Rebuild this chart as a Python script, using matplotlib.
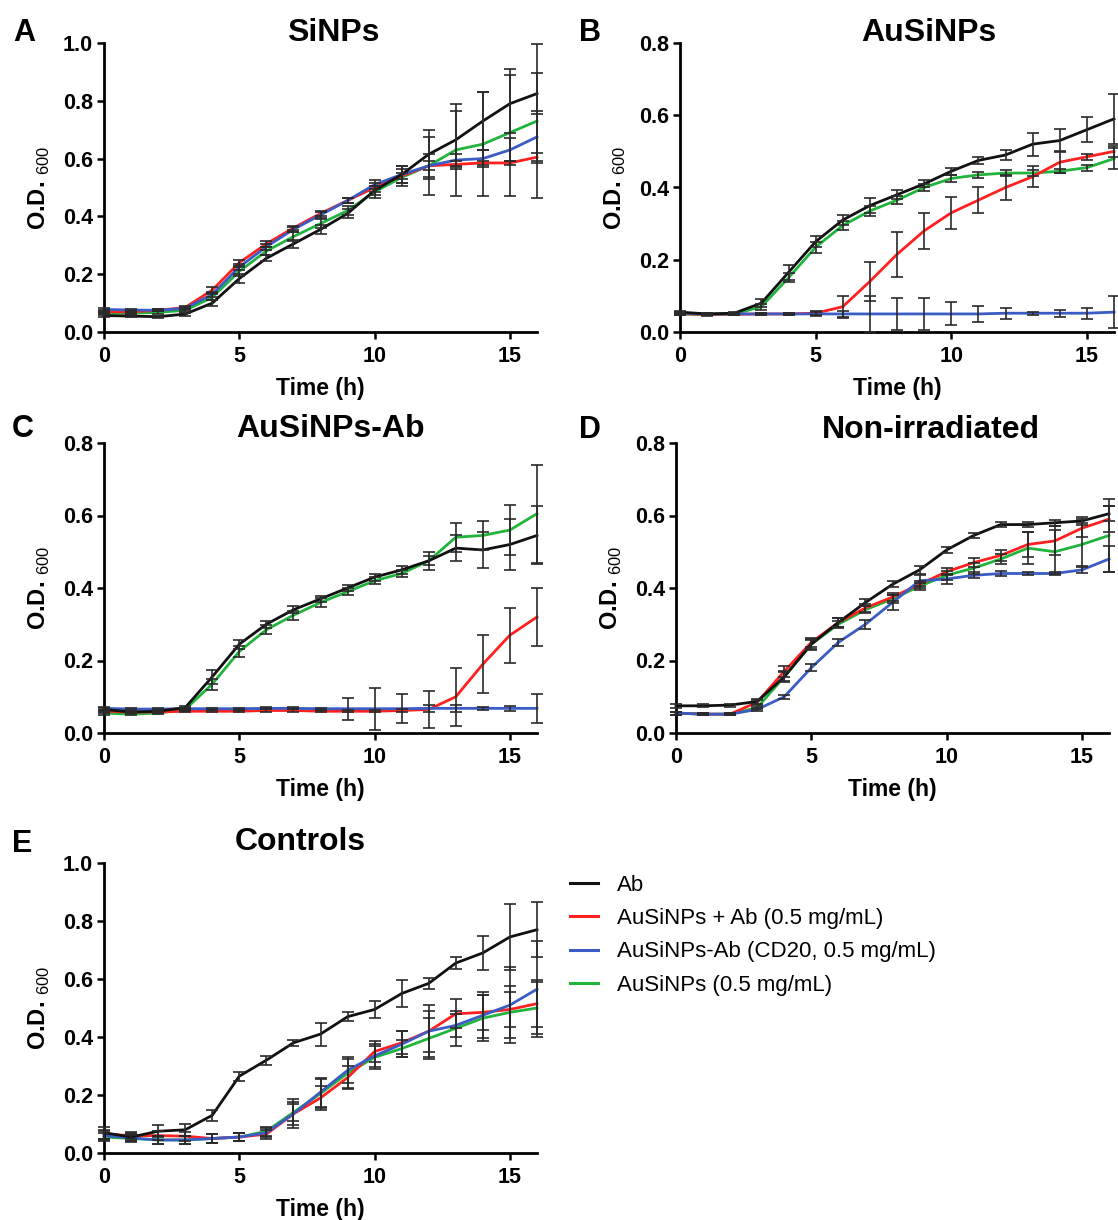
import matplotlib
matplotlib.use("Agg")
import matplotlib.pyplot as plt
from matplotlib.lines import Line2D

plt.rcParams["font.family"] = ["Liberation Sans", "DejaVu Sans"]
plt.rcParams["mathtext.fontset"] = "custom"
plt.rcParams["mathtext.rm"] = "Liberation Sans"

W, H = 1118, 1220

hours = list(range(17))

series_names = [
    "Ab",
    "AuSiNPs + Ab (0.5 mg/mL)",
    "AuSiNPs-Ab (CD20, 0.5 mg/mL)",
    "AuSiNPs (0.5 mg/mL)",
]
colors = ["#111111", "#ff2020", "#3a5cc4", "#20b43c"]

# ==========================================
# A - SiNPs
# ==========================================
a_ab = [0.057, 0.055, 0.053, 0.062, 0.100, 0.185, 0.255, 0.305, 0.355, 0.410, 0.490, 0.545, 0.615, 0.665, 0.730, 0.790, 0.825]
a_ab_err = [0.005, 0.004, 0.004, 0.005, 0.010, 0.015, 0.010, 0.015, 0.015, 0.015, 0.015, 0.030, 0.085, 0.100, 0.100, 0.100, 0.070]
a_mix = [0.070, 0.070, 0.075, 0.085, 0.145, 0.240, 0.305, 0.360, 0.410, 0.455, 0.500, 0.540, 0.575, 0.580, 0.585, 0.585, 0.605]
a_mix_err = [0.005, 0.004, 0.004, 0.005, 0.010, 0.010, 0.010, 0.008, 0.008, 0.010, 0.015, 0.010, 0.015, 0.010, 0.008, 0.008, 0.015]
a_conj = [0.078, 0.076, 0.075, 0.082, 0.130, 0.225, 0.295, 0.355, 0.405, 0.455, 0.510, 0.545, 0.575, 0.595, 0.600, 0.630, 0.675]
a_conj_err = [0.005, 0.004, 0.004, 0.005, 0.010, 0.010, 0.010, 0.010, 0.010, 0.010, 0.015, 0.030, 0.040, 0.020, 0.030, 0.040, 0.090]
a_np = [0.065, 0.065, 0.068, 0.075, 0.120, 0.210, 0.280, 0.330, 0.375, 0.420, 0.485, 0.535, 0.575, 0.630, 0.650, 0.690, 0.730]
a_np_err = [0.005, 0.004, 0.004, 0.005, 0.010, 0.015, 0.015, 0.015, 0.015, 0.015, 0.020, 0.030, 0.100, 0.160, 0.180, 0.220, 0.265]

# ==========================================
# B - AuSiNPs
# ==========================================
b_ab = [0.055, 0.050, 0.052, 0.080, 0.165, 0.250, 0.310, 0.350, 0.380, 0.410, 0.445, 0.475, 0.490, 0.520, 0.530, 0.560, 0.590]
b_ab_err = [0.004, 0.003, 0.003, 0.010, 0.020, 0.015, 0.015, 0.020, 0.012, 0.010, 0.010, 0.010, 0.015, 0.032, 0.032, 0.035, 0.070]
b_mix = [0.050, 0.049, 0.049, 0.050, 0.050, 0.052, 0.070, 0.140, 0.215, 0.280, 0.330, 0.365, 0.400, 0.430, 0.470, 0.485, 0.500]
b_mix_err = [0.003, 0.003, 0.003, 0.003, 0.003, 0.005, 0.030, 0.055, 0.062, 0.050, 0.045, 0.035, 0.035, 0.030, 0.030, 0.008, 0.015]
b_conj = [0.052, 0.050, 0.050, 0.050, 0.050, 0.050, 0.050, 0.050, 0.050, 0.050, 0.050, 0.050, 0.052, 0.052, 0.052, 0.052, 0.055]
b_conj_err = [0.003, 0.003, 0.003, 0.003, 0.003, 0.005, 0.008, 0.050, 0.045, 0.045, 0.032, 0.022, 0.015, 0.004, 0.010, 0.015, 0.045]
b_np = [0.050, 0.048, 0.050, 0.070, 0.150, 0.235, 0.295, 0.335, 0.365, 0.400, 0.425, 0.435, 0.440, 0.440, 0.445, 0.455, 0.480]
b_np_err = [0.003, 0.003, 0.003, 0.008, 0.012, 0.015, 0.012, 0.015, 0.012, 0.010, 0.010, 0.008, 0.008, 0.008, 0.006, 0.008, 0.030]

# ==========================================
# C - AuSiNPs-Ab
# ==========================================
c_ab = [0.065, 0.058, 0.060, 0.070, 0.155, 0.245, 0.300, 0.340, 0.370, 0.400, 0.430, 0.450, 0.475, 0.510, 0.505, 0.520, 0.545]
c_ab_err = [0.005, 0.004, 0.004, 0.005, 0.020, 0.012, 0.010, 0.010, 0.008, 0.008, 0.010, 0.010, 0.012, 0.035, 0.050, 0.070, 0.080]
c_mix = [0.060, 0.058, 0.058, 0.060, 0.060, 0.060, 0.062, 0.062, 0.060, 0.060, 0.060, 0.062, 0.065, 0.100, 0.190, 0.270, 0.320]
c_mix_err = [0.004, 0.003, 0.003, 0.003, 0.003, 0.003, 0.003, 0.003, 0.003, 0.003, 0.003, 0.003, 0.050, 0.080, 0.080, 0.076, 0.080]
c_conj = [0.068, 0.066, 0.066, 0.067, 0.067, 0.067, 0.068, 0.068, 0.067, 0.067, 0.067, 0.067, 0.068, 0.068, 0.068, 0.068, 0.068]
c_conj_err = [0.004, 0.003, 0.003, 0.003, 0.003, 0.003, 0.003, 0.003, 0.003, 0.030, 0.058, 0.040, 0.010, 0.010, 0.004, 0.006, 0.040]
c_np = [0.055, 0.052, 0.055, 0.065, 0.135, 0.225, 0.285, 0.325, 0.360, 0.390, 0.420, 0.440, 0.475, 0.540, 0.545, 0.560, 0.605]
c_np_err = [0.004, 0.003, 0.003, 0.004, 0.015, 0.015, 0.012, 0.012, 0.012, 0.010, 0.010, 0.010, 0.025, 0.040, 0.040, 0.070, 0.135]

# ==========================================
# D - Non-irradiated
# ==========================================
d_ab = [0.075, 0.075, 0.077, 0.087, 0.155, 0.245, 0.305, 0.360, 0.410, 0.450, 0.505, 0.545, 0.575, 0.575, 0.580, 0.585, 0.605]
d_ab_err = [0.005, 0.004, 0.004, 0.006, 0.015, 0.015, 0.012, 0.010, 0.008, 0.010, 0.008, 0.006, 0.008, 0.008, 0.008, 0.010, 0.020]
d_mix = [0.055, 0.052, 0.052, 0.085, 0.170, 0.250, 0.305, 0.345, 0.375, 0.410, 0.445, 0.470, 0.490, 0.520, 0.530, 0.565, 0.590]
d_mix_err = [0.004, 0.003, 0.003, 0.005, 0.015, 0.012, 0.012, 0.010, 0.010, 0.010, 0.010, 0.012, 0.015, 0.035, 0.040, 0.025, 0.035]
d_conj = [0.055, 0.052, 0.052, 0.065, 0.100, 0.180, 0.250, 0.300, 0.360, 0.420, 0.425, 0.435, 0.440, 0.440, 0.440, 0.450, 0.480]
d_conj_err = [0.004, 0.003, 0.003, 0.004, 0.006, 0.010, 0.010, 0.012, 0.020, 0.015, 0.015, 0.008, 0.008, 0.005, 0.005, 0.008, 0.035]
d_np = [0.055, 0.052, 0.052, 0.070, 0.155, 0.245, 0.300, 0.340, 0.370, 0.405, 0.435, 0.455, 0.480, 0.510, 0.500, 0.520, 0.545]
d_np_err = [0.004, 0.003, 0.003, 0.005, 0.012, 0.012, 0.010, 0.010, 0.010, 0.010, 0.012, 0.015, 0.015, 0.045, 0.060, 0.060, 0.100]

# ==========================================
# E - Controls
# ==========================================
e_ab = [0.070, 0.055, 0.075, 0.080, 0.130, 0.265, 0.320, 0.380, 0.410, 0.470, 0.495, 0.550, 0.585, 0.655, 0.690, 0.745, 0.770]
e_ab_err = [0.020, 0.015, 0.020, 0.020, 0.020, 0.015, 0.015, 0.010, 0.040, 0.015, 0.030, 0.045, 0.020, 0.020, 0.060, 0.115, 0.095]
e_mix = [0.065, 0.060, 0.060, 0.058, 0.050, 0.055, 0.065, 0.135, 0.190, 0.260, 0.350, 0.380, 0.420, 0.480, 0.485, 0.495, 0.515]
e_mix_err = [0.015, 0.012, 0.015, 0.015, 0.015, 0.015, 0.015, 0.040, 0.040, 0.040, 0.035, 0.040, 0.090, 0.050, 0.060, 0.060, 0.080]
e_conj = [0.060, 0.052, 0.045, 0.045, 0.050, 0.055, 0.070, 0.135, 0.210, 0.285, 0.335, 0.375, 0.420, 0.440, 0.475, 0.510, 0.565]
e_conj_err = [0.015, 0.012, 0.015, 0.015, 0.015, 0.015, 0.015, 0.050, 0.050, 0.045, 0.040, 0.045, 0.070, 0.040, 0.080, 0.130, 0.165]
e_np = [0.055, 0.050, 0.045, 0.045, 0.050, 0.055, 0.075, 0.140, 0.205, 0.275, 0.330, 0.360, 0.395, 0.430, 0.465, 0.485, 0.500]
e_np_err = [0.015, 0.012, 0.015, 0.015, 0.015, 0.015, 0.015, 0.030, 0.050, 0.050, 0.040, 0.030, 0.070, 0.060, 0.080, 0.090, 0.090]

panels = [
    # letter, title, ymax, (left, top, right, bottom) px, title x frac, title baseline px, letter xy px
    ("A", "SiNPs", 1.0, (104, 43, 537, 332), 0.529, 41, (13, 41),
     [(a_ab, a_ab_err), (a_mix, a_mix_err), (a_conj, a_conj_err), (a_np, a_np_err)]),
    ("B", "AuSiNPs", 0.8, (680, 43, 1114, 332), 0.574, 41, (579, 41),
     [(b_ab, b_ab_err), (b_mix, b_mix_err), (b_conj, b_conj_err), (b_np, b_np_err)]),
    ("C", "AuSiNPs-Ab", 0.8, (104, 443, 537, 733), 0.522, 437, (12, 437),
     [(c_ab, c_ab_err), (c_mix, c_mix_err), (c_conj, c_conj_err), (c_np, c_np_err)]),
    ("D", "Non-irradiated", 0.8, (676, 443, 1109, 733), 0.589, 438, (579, 438),
     [(d_ab, d_ab_err), (d_mix, d_mix_err), (d_conj, d_conj_err), (d_np, d_np_err)]),
    ("E", "Controls", 1.0, (104, 863, 537, 1153), 0.453, 850, (12, 852),
     [(e_ab, e_ab_err), (e_mix, e_mix_err), (e_conj, e_conj_err), (e_np, e_np_err)]),
]

draw_order = [3, 1, 2, 0]

fig = plt.figure(figsize=(W / 100, H / 100), dpi=100)

for letter, title, ymax, box, tx, tbase, lxy, data in panels:
    left, top, right, bottom = box
    ax = fig.add_axes([left / W, 1 - bottom / H, (right - left) / W, (bottom - top) / H])

    for i in draw_order:
        vals, errs = data[i]
        ax.plot(hours, vals, color=colors[i], linewidth=2.0, zorder=2,
                clip_on=False, label=series_names[i])
    for i in draw_order:
        vals, errs = data[i]
        ax.errorbar(hours, vals, yerr=errs, fmt="none", ecolor="#2a2a2a",
                    elinewidth=1.2, capsize=4.2, capthick=1.2, zorder=3,
                    clip_on=False)

    ax.set_xlim(0, 16)
    ax.set_ylim(0, ymax)
    ax.set_xticks([0, 5, 10, 15])
    ax.set_yticks([round(v * 0.2, 1) for v in range(int(round(ymax / 0.2)) + 1)])
    ax.set_yticklabels(["%.1f" % t for t in ax.get_yticks()])

    for side in ["top", "right"]:
        ax.spines[side].set_visible(False)
    for side in ["left", "bottom"]:
        ax.spines[side].set_linewidth(2.0)

    ax.tick_params(axis="both", direction="out", length=5, width=1.8,
                   labelsize=15.5)
    ax.tick_params(axis="x", pad=5)
    ax.tick_params(axis="y", pad=3)
    for lab in ax.get_xticklabels() + ax.get_yticklabels():
        lab.set_fontweight("bold")

    ax.set_xlabel("Time (h)", fontsize=16.5, fontweight="bold")
    ax.xaxis.set_label_coords(0.5, -0.155)
    ax.set_ylabel(r"O.D. $_{\mathrm{600}}$", fontsize=17, fontweight="bold")
    ax.yaxis.set_label_coords(-0.12, 0.5)

    ax.text(tx, 1 + (top - tbase) / (bottom - top), title, transform=ax.transAxes,
            ha="center", va="baseline", fontsize=23, fontweight="bold")
    fig.text(lxy[0] / W, 1 - lxy[1] / H, letter, ha="left", va="baseline",
             fontsize=22, fontweight="bold")

handles = [Line2D([0], [0], color=c, linewidth=2.2) for c in colors]
fig.legend(handles, series_names, loc="upper left",
           bbox_to_anchor=(570 / W, 1 - 875 / H), frameon=False,
           fontsize=16, handlelength=1.25, handletextpad=0.85,
           labelspacing=0.55, borderpad=0, borderaxespad=0)

fig.savefig("out.png", dpi=100)
